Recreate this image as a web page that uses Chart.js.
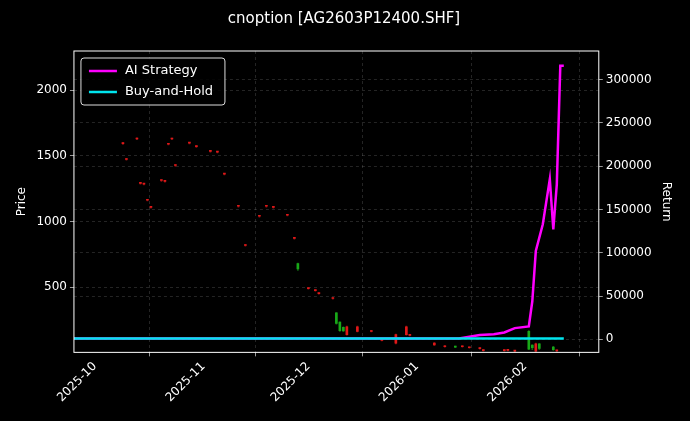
<!DOCTYPE html>
<html>
<head>
<meta charset="utf-8">
<script src="https://cdn.jsdelivr.net/npm/chart.js@4.4.1/dist/chart.umd.min.js"></script>
<style>
  html, body { margin: 0; padding: 0; background: #000; }
  #wrap { width: 690px; height: 421px; }
</style>
</head>
<body>
<div id="wrap"><canvas id="c"></canvas></div>
<script>
// Candles: date, open, high, low, close
const candleDates = ['2025-10-09','2025-10-10','2025-10-13','2025-10-14','2025-10-15','2025-10-16','2025-10-17',
  '2025-10-20','2025-10-21','2025-10-22','2025-10-23','2025-10-24','2025-10-28','2025-10-30',
  '2025-11-03','2025-11-05','2025-11-07','2025-11-11','2025-11-13','2025-11-17','2025-11-19','2025-11-21',
  '2025-11-25','2025-11-27','2025-11-28','2025-12-01','2025-12-03','2025-12-04','2025-12-08','2025-12-09',
  '2025-12-10','2025-12-11','2025-12-12','2025-12-15','2025-12-19','2025-12-22','2025-12-26','2025-12-29',
  '2025-12-30','2026-01-06','2026-01-09','2026-01-12','2026-01-14','2026-01-16','2026-01-19','2026-01-20',
  '2026-01-26','2026-01-27','2026-01-29','2026-02-02','2026-02-03','2026-02-04','2026-02-05','2026-02-09',
  '2026-02-10'];
const candleOpen  = [1592,1472,1628,1290,1284,1162,1108,1312,1305,1588,1628,1426,1596,1570,1534,1528,1360,1116,818,1040,1116,1108,1048,872,680,490,475,452,415,305,235,195,140,165,164,96,75,140,134,62,48,50,48,40,34,18,18,20,14,165,60,15,70,45,16];
const candleHigh  = [1600,1480,1636,1296,1290,1168,1114,1318,1312,1594,1634,1432,1602,1576,1540,1534,1366,1122,824,1046,1122,1114,1054,878,684,494,480,456,420,308,238,200,205,205,172,102,145,205,142,80,56,52,54,46,40,24,24,26,20,170,62,75,72,50,22];
const candleLow   = [1586,1466,1622,1284,1278,1156,1102,1306,1300,1582,1622,1420,1590,1564,1528,1522,1354,1110,812,1034,1110,1102,1042,866,628,486,470,448,410,220,165,165,135,160,160,92,70,135,130,58,44,40,44,36,30,14,14,16,10,25,25,10,25,20,12];
const candleClose = [1596,1476,1632,1292,1288,1166,1112,1316,1309,1592,1632,1430,1600,1574,1538,1532,1364,1120,822,1044,1120,1112,1052,876,640,494,479,456,419,225,170,168,200,200,168,100,140,200,138,75,52,45,52,45,38,22,20,24,18,30,40,70,35,25,20];

// Strategy returns (right axis)
const aiDates = ['2025-09-25','2026-01-13','2026-01-19','2026-01-23','2026-01-26','2026-01-29','2026-02-02',
  '2026-02-03','2026-02-04','2026-02-06','2026-02-08','2026-02-09','2026-02-10','2026-02-11','2026-02-12'];
const aiReturn = [1000,1000,5000,6000,8000,13000,15000,44000,102000,133000,185000,127000,179000,316000,316000];
const bhDates = ['2025-09-25','2026-02-12'];
const bhReturn = [1000,1000];

const monthTicks = ['2025-10-01','2025-11-01','2025-12-01','2026-01-01','2026-02-01'];

const ms = s => Date.parse(s + 'T00:00:00Z');
// Chinese convention: red = up, green = down
const upColor = '#e01818', downColor = '#18a818';
const candleColors = candleOpen.map((o, i) => candleClose[i] >= o ? upColor : downColor);
const wickColors = candleOpen.map((o, i) => candleClose[i] >= o ? 'rgba(160,20,20,0.8)' : 'rgba(20,120,20,0.8)');

const bodies = candleDates.map((d, i) => ({ x: ms(d), y: [candleOpen[i], candleClose[i]] }));
const wicks = candleDates.map((d, i) => ({ x: ms(d), y: [candleLow[i], candleHigh[i]] }));

const legendItems = [['AI Strategy', '#ff00ff'], ['Buy-and-Hold', '#00e5ee']];
const boxedLegend = {
  id: 'boxedLegend',
  afterDraw(chart) {
    const ctx = chart.ctx, a = chart.chartArea;
    const x = a.left + 7, y = a.top + 7, w = 144, h = 47;
    ctx.save();
    ctx.fillStyle = 'rgba(0,0,0,0.85)';
    ctx.strokeStyle = '#dddddd';
    ctx.lineWidth = 1;
    ctx.beginPath();
    ctx.roundRect(x, y, w, h, 3);
    ctx.fill(); ctx.stroke();
    ctx.font = '13px "DejaVu Sans"';
    ctx.textBaseline = 'middle';
    legendItems.forEach(([label, color], i) => {
      const ly = y + 13 + i * 21;
      ctx.strokeStyle = color; ctx.lineWidth = 2.5;
      ctx.beginPath(); ctx.moveTo(x + 8, ly); ctx.lineTo(x + 36, ly); ctx.stroke();
      ctx.fillStyle = '#ffffff';
      ctx.fillText(label, x + 44, ly);
    });
    ctx.restore();
  }
};
const bg = {
  id: 'bg',
  beforeDraw(chart) {
    const ctx = chart.ctx;
    ctx.save(); ctx.fillStyle = '#000'; ctx.fillRect(0, 0, chart.width, chart.height); ctx.restore();
  },
  afterDraw(chart) {
    const ctx = chart.ctx, a = chart.chartArea;
    ctx.save(); ctx.strokeStyle = '#ffffff'; ctx.lineWidth = 1;
    ctx.strokeRect(a.left, a.top, a.right - a.left, a.bottom - a.top); ctx.restore();
  }
};

const grid = { color: 'rgba(150,150,150,0.4)', lineWidth: 0.6, tickColor: '#ffffff', tickLength: 4 };
const border = { display: false, dash: [3, 3] };
const tickFont = { family: 'DejaVu Sans', size: 12 };

new Chart(document.getElementById('c'), {
  type: 'bar',
  data: {
    datasets: [
      { type: 'bar', data: wicks, yAxisID: 'y', backgroundColor: wickColors, barThickness: 1, grouped: false, order: 3 },
      { type: 'bar', data: bodies, yAxisID: 'y', backgroundColor: candleColors, barThickness: 2, grouped: false, order: 2, minBarLength: 1 },
      { type: 'line', label: 'AI Strategy', data: aiDates.map((d, i) => ({ x: ms(d), y: aiReturn[i] })), yAxisID: 'y2',
        borderColor: '#ff00ff', borderWidth: 2.5, pointRadius: 0, order: 1 },
      { type: 'line', label: 'Buy-and-Hold', data: bhDates.map((d, i) => ({ x: ms(d), y: bhReturn[i] })), yAxisID: 'y2',
        borderColor: '#00e5ee', borderWidth: 2.5, pointRadius: 0, order: 0 }
    ]
  },
  options: {
    responsive: true,
    maintainAspectRatio: false,
    animation: false,
    layout: { padding: { left: 11, right: 13, top: 0, bottom: 13 } },
    plugins: {
      legend: { display: false },
      tooltip: { enabled: false },
      title: { display: true, text: 'cnoption [AG2603P12400.SHF]', color: '#ffffff',
        font: { family: 'DejaVu Sans', size: 15, weight: 'normal' }, padding: { top: 10, bottom: 23 } }
    },
    scales: {
      x: {
        type: 'linear',
        min: ms('2025-09-25'), max: ms('2026-02-22'),
        offset: false,
        afterBuildTicks: ax => { ax.ticks = monthTicks.map(d => ({ value: ms(d) })); },
        ticks: {
          color: '#ffffff', font: tickFont, maxRotation: 45, minRotation: 45,
          callback: v => new Date(v).toISOString().slice(0, 7)
        },
        grid: grid, border: border
      },
      y: {
        position: 'left', min: 5, max: 2297,
        afterBuildTicks: ax => { ax.ticks = [500, 1000, 1500, 2000].map(v => ({ value: v })); },
        ticks: { color: '#ffffff', font: tickFont, callback: v => String(v) },
        title: { display: true, text: 'Price', color: '#ffffff', font: tickFont },
        grid: grid, border: border
      },
      y2: {
        position: 'right', min: -15000, max: 333000,
        afterBuildTicks: ax => { ax.ticks = [0, 50000, 100000, 150000, 200000, 250000, 300000].map(v => ({ value: v })); },
        ticks: { color: '#ffffff', font: tickFont, callback: v => String(v) },
        title: { display: true, text: 'Return', color: '#ffffff', font: tickFont },
        grid: grid, border: border
      }
    }
  },
  plugins: [bg, boxedLegend]
});
</script>
</body>
</html>
